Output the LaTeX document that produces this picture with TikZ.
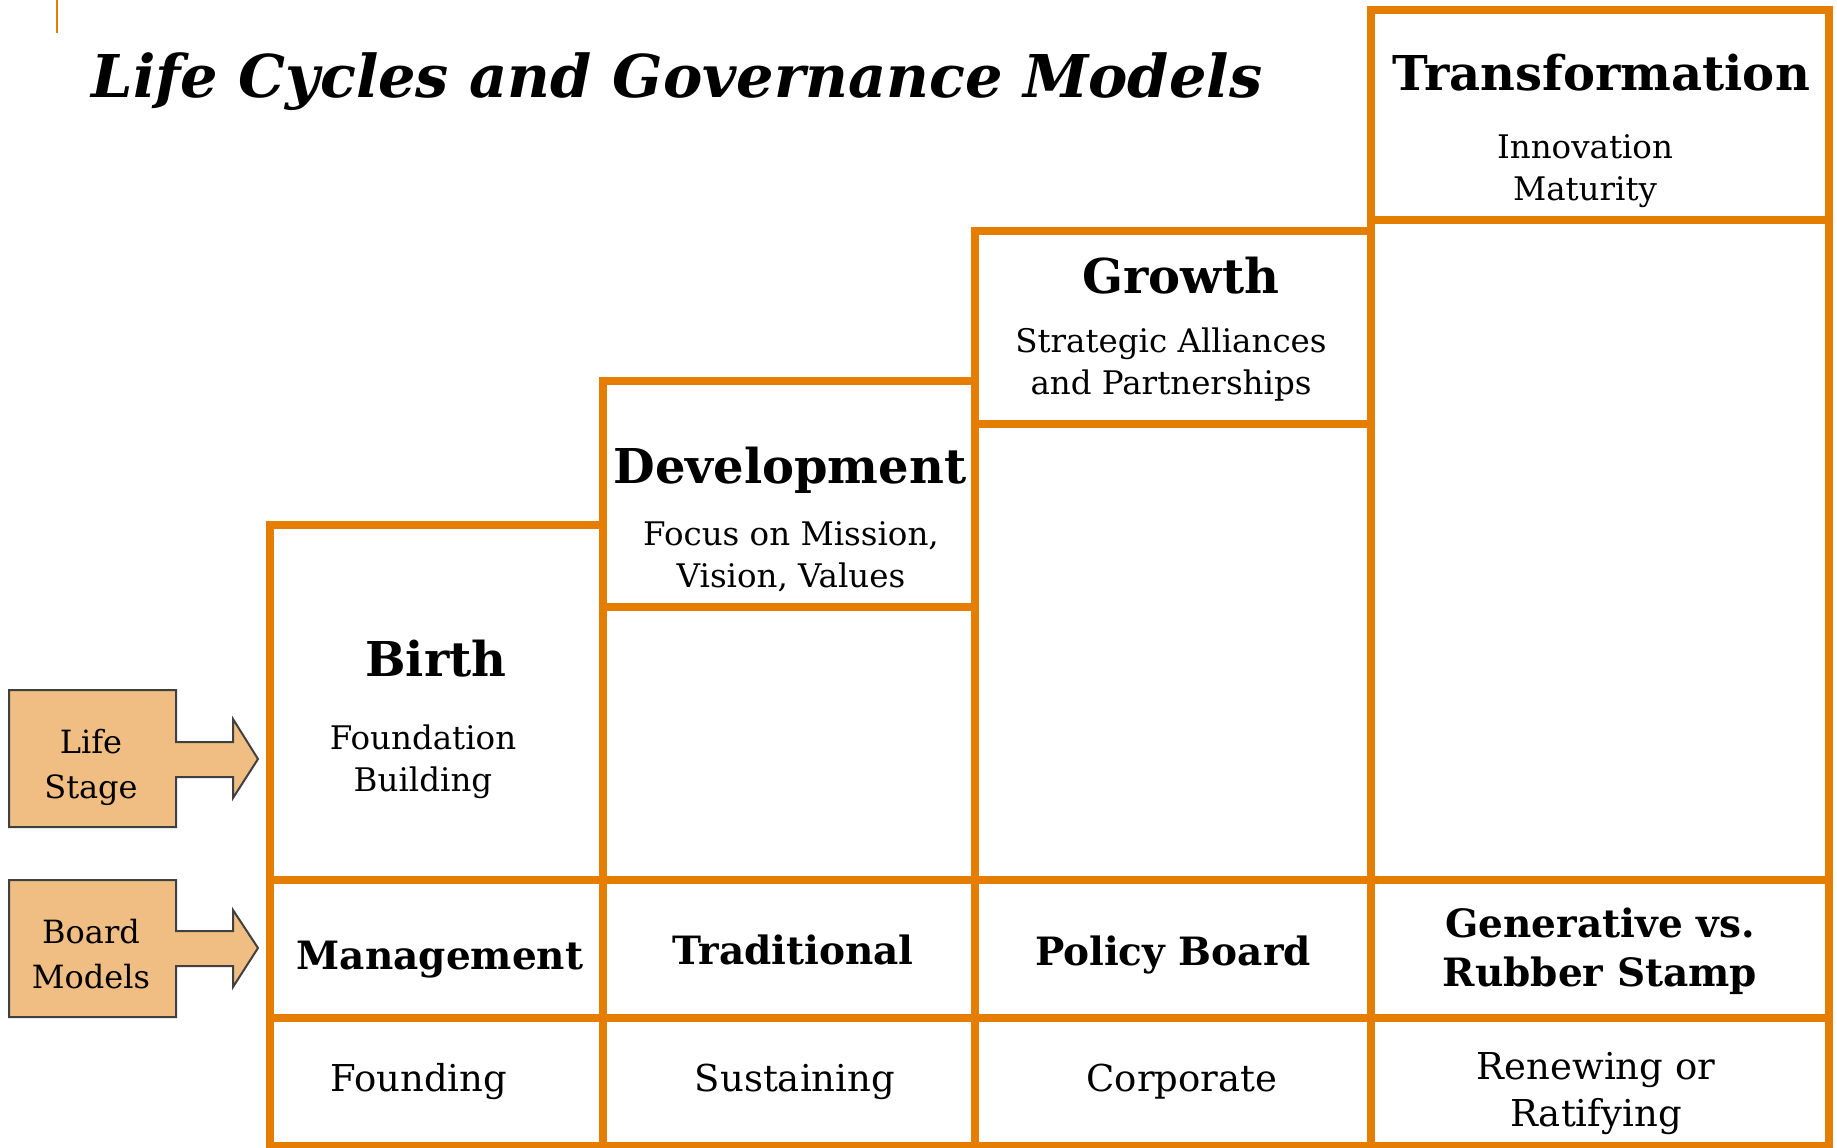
\documentclass[tikz,border=0pt]{standalone}
\usepackage{fontspec}
\setmainfont{DejaVu Serif}
\definecolor{frame}{RGB}{229,126,0}
\definecolor{tagfill}{RGB}{240,190,130}
\definecolor{tagline}{RGB}{64,64,64}
\begin{document}
\begin{tikzpicture}[x=1pt,y=-1pt,
  cell/.style={draw=frame, line width=8pt, line join=miter},
  tagshape/.style={draw=tagline, fill=tagfill, line width=2pt},
  stage/.style={font=\fontsize{48}{56}\selectfont\bfseries, anchor=base},
  note/.style={font=\fontsize{32.5}{42}\selectfont, align=center, anchor=base},
  model/.style={font=\fontsize{39}{49}\selectfont\bfseries, align=center, anchor=base},
  role/.style={font=\fontsize{37}{47}\selectfont, align=center, anchor=base},
  tagtext/.style={font=\fontsize{32}{45}\selectfont, align=center, anchor=base}]
\useasboundingbox (0,0) rectangle (1837,1148);
\fill[white] (0,0) rectangle (1837,1148);

% small accent mark and title
\draw[frame, line width=2.5pt] (57,0) -- (57,33);
\node[font=\fontsize{59}{70}\selectfont\bfseries\itshape, anchor=base west] (title) at (88,97) {Life Cycles and Governance Models};

% life stage boxes (staircase)
\draw[cell] (270,525) rectangle (603,880);
\draw[cell] (603,607) rectangle (975,880);
\draw[cell] (603,381) rectangle (975,607);
\draw[cell] (975,424) rectangle (1371,880);
\draw[cell] (975,231) rectangle (1371,424);
\draw[cell] (1371,220) rectangle (1829,880);
\draw[cell] (1371,10) rectangle (1829,220);

% board model row and bottom row
\foreach \xa/\xb in {270/603, 603/975, 975/1371, 1371/1829} {
  \draw[cell] (\xa,880) rectangle (\xb,1018);
  \draw[cell] (\xa,1018) rectangle (\xb,1146);
}

% row tags with arrows
\draw[tagshape] (9,690) -- (176,690) -- (176,742) -- (233,742) -- (233,719) -- (258,759)
  -- (233,798) -- (233,777) -- (176,777) -- (176,827) -- (9,827) -- cycle;
\draw[tagshape] (9,880) -- (176,880) -- (176,931) -- (233,931) -- (233,910) -- (258,948)
  -- (233,987) -- (233,966) -- (176,966) -- (176,1017) -- (9,1017) -- cycle;
\node[tagtext] (lifetag) at (91,798) {Life\\Stage};
\node[tagtext] (boardtag) at (91,988) {Board\\Models};

% stage headings
\node[stage] (birth) at (436,676) {Birth};
\node[note] (birthnote) at (423,791) {Foundation\\Building};
\node[stage] (dev) at (790,483) {Development};
\node[note] (devnote) at (791,587) {Focus on Mission,\\Vision, Values};
\node[stage] (growth) at (1181,293) {Growth};
\node[note] (growthnote) at (1171,394) {Strategic Alliances\\and Partnerships};
\node[stage] (transf) at (1601,91) {Transformation};
\node[note] (transfnote) at (1585,200) {Innovation\\Maturity};

% board models
\node[model] (mgmt) at (440,969) {Management};
\node[model] (trad) at (793,964) {Traditional};
\node[model] (policy) at (1173,965) {Policy Board};
\node[model] (gen) at (1600,986) {Generative vs.\\Rubber Stamp};

% bottom row
\node[role] (found) at (419,1091) {Founding};
\node[role] (sust) at (795,1091) {Sustaining};
\node[role] (corp) at (1182,1091) {Corporate};
\node[role] (renew) at (1596,1126) {Renewing or\\Ratifying};
\end{tikzpicture}
\end{document}
